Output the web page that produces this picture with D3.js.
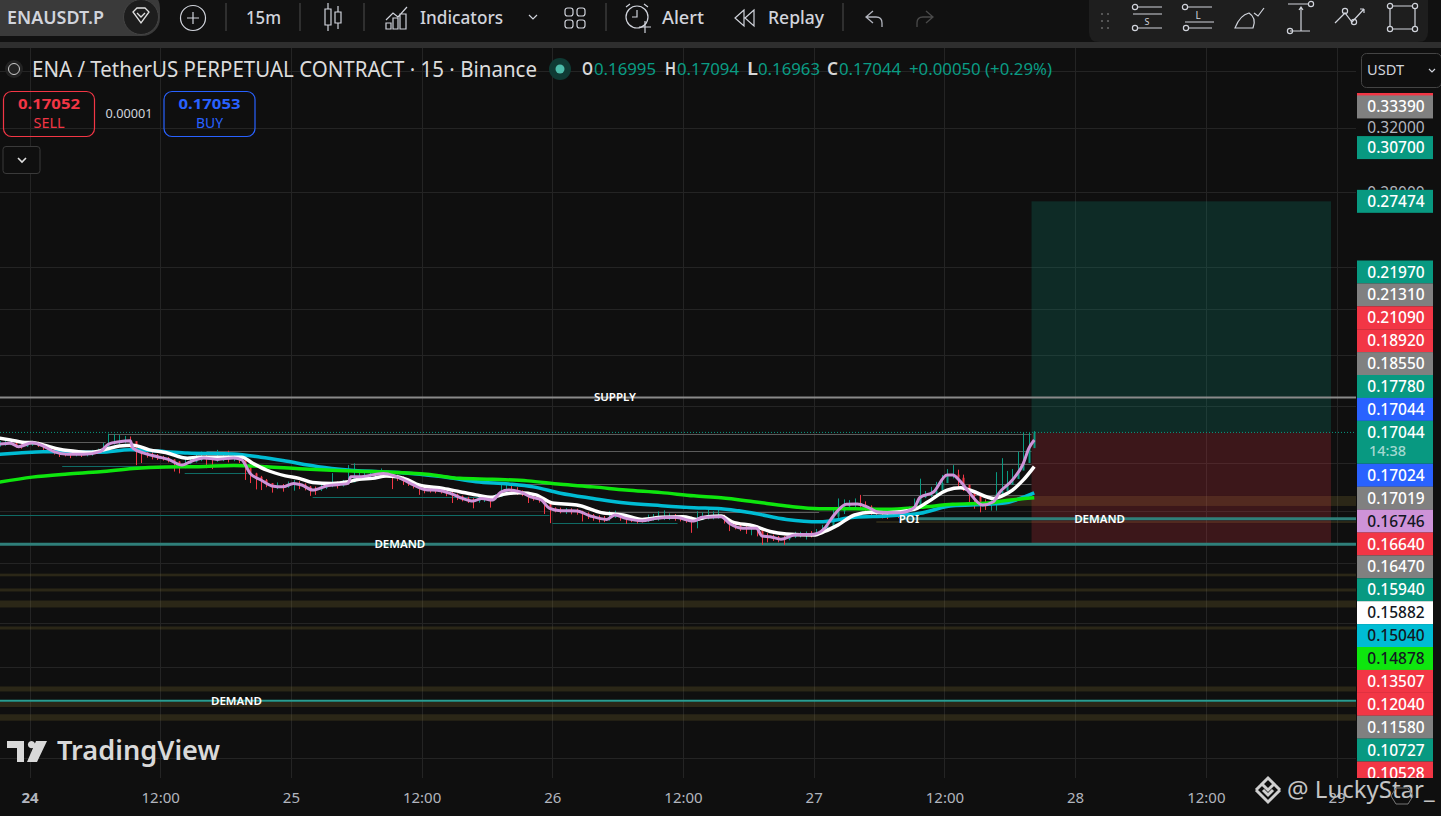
<!DOCTYPE html>
<html>
<head>
<meta charset="utf-8">
<script src="https://cdn.jsdelivr.net/npm/d3@7"></script>
<style>
  html, body { margin: 0; padding: 0; background: #0f0f0f; overflow: hidden; }
  text { font-family: "Noto Sans", "Open Sans", sans-serif; }
</style>
</head>
<body>
<div id="chart"></div>
<script>
// 15m candles, one every second bar. Bar 0 is the 24th 00:00
const candleStart = -11;
const candleStep = 2;
const candleClose = [
  .1664,.1666,.1667,.1660,.1656,.1661,.1668,.1662,.1657,.1648,
  .1639,.1635,.1630,.1627,.1631,.1628,.1631,.1634,.1637,.1650,
  .1664,.1670,.1672,.1676,.1674,.1645,.1636,.1630,.1626,.1620,
  .1616,.1612,.1605,.1596,.1597,.1604,.1610,.1617,.1615,.1612,
  .1613,.1616,.1613,.1617,.1612,.1590,.1566,.1555,.1545,.1535,
  .1526,.1528,.1523,.1530,.1534,.1530,.1524,.1515,.1514,.1520,
  .1526,.1530,.1527,.1533,.1537,.1555,.1555,.1559,.1562,.1564,
  .1566,.1562,.1556,.1552,.1547,.1537,.1529,.1522,.1515,.1513,
  .1512,.1510,.1504,.1499,.1494,.1487,.1484,.1479,.1484,.1487,
  .1484,.1492,.1506,.1512,.1511,.1508,.1503,.1495,.1490,.1484,
  .1470,.1457,.1453,.1450,.1450,.1449,.1448,.1442,.1437,.1431,
  .1428,.1425,.1430,.1437,.1431,.1427,.1425,.1421,.1420,.1424,
  .1427,.1428,.1429,.1431,.1430,.1428,.1424,.1420,.1422,.1430,
  .1431,.1433,.1434,.1425,.1413,.1406,.1400,.1397,.1399,.1397,
  .1376,.1375,.1373,.1368,.1367,.1373,.1379,.1380,.1381,.1380,
  .1386,.1395,.1405,.1432,.1448,.1463,.1469,.1471,.1468,.1462,
  .1453,.1446,.1445,.1442,.1446,.1443,.1448,.1455,.1460,.1490,
  .1496,.1501,.1512,.1535,.1560,.1562,.1552,.1530,.1507,.1495,
  .1473,.1470,.1475,.1500,.1510,.1530,.1548,.1575,.1600,.1650,.1704
];
const candleHigh = [
  .1674,.1675,.1676,.1669,.1665,.1668,.1675,.1672,.1666,.1660,
  .1648,.1643,.1640,.1634,.1640,.1636,.1640,.1644,.1648,.1668,
  .1700,.1699,.1695,.1692,.1690,.1652,.1648,.1642,.1636,.1630,
  .1624,.1620,.1612,.1606,.1621,.1620,.1628,.1638,.1626,.1622,
  .1644,.1628,.1641,.1632,.1628,.1605,.1580,.1568,.1558,.1548,
  .1535,.1537,.1532,.1540,.1545,.1541,.1534,.1526,.1524,.1530,
  .1538,.1567,.1540,.1545,.1593,.1599,.1570,.1570,.1572,.1576,
  .1582,.1574,.1566,.1562,.1556,.1548,.1538,.1532,.1524,.1522,
  .1520,.1518,.1512,.1508,.1502,.1496,.1492,.1488,.1492,.1495,
  .1494,.1500,.1534,.1530,.1530,.1522,.1512,.1505,.1498,.1494,
  .1482,.1466,.1460,.1459,.1458,.1457,.1456,.1450,.1445,.1440,
  .1436,.1434,.1449,.1450,.1440,.1436,.1433,.1428,.1428,.1438,
  .1440,.1448,.1451,.1442,.1440,.1437,.1434,.1432,.1448,.1445,
  .1454,.1448,.1455,.1438,.1425,.1416,.1410,.1408,.1408,.1406,
  .1386,.1384,.1380,.1376,.1376,.1382,.1388,.1388,.1389,.1390,
  .1396,.1408,.1422,.1455,.1487,.1484,.1482,.1487,.1498,.1478,
  .1466,.1458,.1456,.1452,.1456,.1458,.1456,.1462,.1487,.1549,
  .1510,.1523,.1539,.1561,.1580,.1593,.1578,.1562,.1530,.1510,
  .1490,.1484,.1490,.1570,.1616,.1574,.1580,.1638,.1703,.1703,.1709
];
const candleLow = [
  .1655,.1658,.1660,.1652,.1648,.1654,.1658,.1654,.1644,.1640,
  .1628,.1620,.1622,.1616,.1622,.1620,.1622,.1624,.1630,.1636,
  .1658,.1662,.1664,.1666,.1640,.1593,.1600,.1618,.1612,.1610,
  .1608,.1602,.1572,.1566,.1583,.1596,.1602,.1606,.1583,.1580,
  .1604,.1606,.1602,.1606,.1600,.1545,.1535,.1515,.1513,.1522,
  .1505,.1516,.1508,.1520,.1511,.1516,.1512,.1495,.1498,.1510,
  .1516,.1522,.1518,.1524,.1531,.1545,.1548,.1550,.1552,.1555,
  .1558,.1554,.1516,.1542,.1529,.1526,.1518,.1498,.1503,.1505,
  .1503,.1502,.1494,.1473,.1482,.1478,.1473,.1457,.1474,.1476,
  .1459,.1484,.1496,.1504,.1502,.1498,.1494,.1473,.1480,.1474,
  .1440,.1413,.1445,.1442,.1440,.1439,.1438,.1418,.1425,.1420,
  .1415,.1416,.1420,.1428,.1420,.1411,.1416,.1412,.1415,.1416,
  .1420,.1420,.1422,.1422,.1420,.1418,.1414,.1385,.1398,.1422,
  .1424,.1424,.1426,.1412,.1390,.1395,.1390,.1382,.1378,.1375,
  .1351,.1358,.1362,.1358,.1351,.1364,.1370,.1372,.1366,.1372,
  .1378,.1382,.1392,.1402,.1426,.1440,.1456,.1458,.1455,.1448,
  .1436,.1430,.1427,.1425,.1434,.1428,.1432,.1444,.1448,.1458,
  .1488,.1492,.1500,.1520,.1545,.1550,.1518,.1510,.1467,.1456,
  .1445,.1452,.1450,.1450,.1490,.1518,.1530,.1560,.1592,.1640,.1696
];

// moving averages: bar number + value read at that bar
const pinkBars = [-11,-7,-4,1,5,9,14,20,26,29,33,37,38,42,47,51,56,59,64,69,75,78,81,85,89,93,97,100,104,109,117,118,121,
  130,134,137,141,145,151,156,159,163,166,170,173,176,180,184,188,191,195,201,206,212,215,219,225,230,237,244,247,254,
  257,262,267,269,272,276,281,288,292,295,300,304,308,312,320,325,327,332,337,339,342,345,350,354,356,361,365,367,369];
const pinkValues = [.1664,.1667,.1655,.1668,.1657,.1638,.1629,.1629,.1638,.1664,.1672,.1675,.1650,.1633,.1621,.1612,.1593,.1604,.1617,.1612,.1617,.1610,.1566,.1545,.1526,.1523,.1534,.1529,.1513,.1526,.1534,.1555,.1555,
  .1566,.1558,.1547,.1529,.1515,.1511,.1498,.1487,.1479,.1487,.1482,.1506,.1513,.1508,.1492,.1482,.1457,.1450,.1449,.1434,.1424,.1437,.1427,.1420,.1427,.1430,.1419,.1430,.1432,
  .1413,.1398,.1398,.1376,.1374,.1367,.1379,.1381,.1398,.1432,.1469,.1470,.1460,.1445,.1444,.1460,.1490,.1507,.1561,.1561,.1539,.1507,.1467,.1477,.1503,.1545,.1599,.1649,.1678];
const whiteBars = [-11,-7,-1,1,5,11,18,23,28,33,38,44,50,58,62,69,78,82,87,94,99,104,111,117,121,126,131,135,139,143,152,158,164,170,174,180,186,192,201,210,218,225,232,240,245,249,254,258,266,272,278,288,292,297,303,309,315,325,330,337,342,346,354,358,361,365,369];
const whiteValues = [.1684,.1678,.1669,.1669,.1661,.1646,.1638,.1636,.1646,.1657,.1660,.1644,.1635,.1616,.1619,.1619,.1619,.1599,.1577,.1558,.1550,.1537,.1534,.1539,.1547,.1550,.1558,.1555,.1545,.1529,.1518,.1508,.1498,.1491,.1500,.1505,.1498,.1473,.1467,.1444,.1437,.1424,.1430,.1432,.1424,.1432,.1434,.1417,.1405,.1389,.1382,.1379,.1389,.1408,.1437,.1445,.1444,.1454,.1477,.1513,.1520,.1511,.1487,.1498,.1513,.1545,.1588];
const cyanBars = [-11,-4,5,14,26,37,50,58,75,85,93,106,117,140,152,164,176,185,195,207,219,232,244,254,266,278,290,303,315,327,339,352,358,369];
const cyanValues = [.1629,.1633,.1638,.1637,.1636,.1644,.1638,.1633,.1630,.1619,.1608,.1588,.1577,.1566,.1555,.1539,.1532,.1523,.1503,.1487,.1473,.1465,.1459,.1456,.1442,.1424,.1417,.1430,.1434,.1442,.1465,.1469,.1473,.1504];
const limeBars = [-11,1,14,26,38,50,62,75,87,99,111,121,133,146,158,170,183,195,207,219,232,244,254,266,278,290,303,315,327,339,352,358,369];
const limeValues = [.1538,.1554,.1564,.1571,.1582,.1587,.1588,.1592,.1588,.1581,.1576,.1573,.1570,.1563,.1550,.1547,.1542,.1531,.1523,.1513,.1505,.1495,.1489,.1477,.1464,.1456,.1456,.1454,.1460,.1469,.1473,.1480,.1489];

// axis ticks
const xTickBars = [0,48,96,144,192,240,288,336,384,432,480];
const xTickLabels = ["24","12:00","25","12:00","26","12:00","27","12:00","28","12:00","29"];
const yGridPrices = [.36,.32,.28,.24,.22,.20,.18,.16,.145,.13,.115,.105,.087];
const yShownPrices = [.32,.28];

// drawn levels
const supplyPrice = .1832;
const currentPrice = .17044;
const demandPrices = [.1353,.1426,.0979];
const demandStartBars = [-11,320,-11];
const grayRayPrices = [.1700,.1672,.1639,.1596,.1531,.1498,.1447];
const grayRayStart = [29,1,65,118,172,306,212];
const grayRayEnd = [368,28,368,368,368,368,290];
const tealRayPrices = [.1590,.1566,.1492,.1437,.1413];
const tealRayStart = [12,57,104,-11,192];
const tealRayEnd = [58,80,170,191,238];
const bandTop = [.14946,.14192,.1273,.12346,.12043,.11413,.10083,.09765,.0952];
const bandBottom = [.1464,.14134,.1266,.12269,.1187,.11342,.0998,.09664,.09395];
const bandStart = [355,311,-11,-11,-11,-11,-11,-11,-11];
const levelLabels = ["SUPPLY","DEMAND","DEMAND","DEMAND","POI"];
const levelLabelBars = [215,136,393,76,323];
const levelLabelPrices = [.1832,.1353,.1426,.0979,.1426];

// long position tool
const longStartBar = 368;
const longEndBar = 478;
const longTarget = .27474;
const longEntry = .17044;
const longStop = .13507;

// price tags on the right
const freeTagPrices = ["0.33390","0.30700","0.27474"];
const freeTagColors = ["#808080","#089981","#089981"];
const stackTagPrices = ["0.21970","0.21310","0.21090","0.18920","0.18550","0.17780","0.17044","0.17044","0.17024","0.17019","0.16746","0.16640","0.16470","0.15940","0.15882","0.15040","0.14878","0.13507","0.12040","0.11580","0.10727","0.10528"];
const stackTagColors = ["#089981","#808080","#f23645","#f23645","#808080","#089981","#2962ff","#089981","#2962ff","#808080","#ce93d8","#f23645","#808080","#089981","#ffffff","#00bcd4","#0ee60e","#f23645","#f23645","#808080","#089981","#f23645"];
const darkTextTags = ["#ce93d8","#ffffff","#00bcd4","#0ee60e"];

const W = 1441, H = 816, plotRight = 1356, plotTop = 48, plotBottom = 778;

const svg = d3.select("#chart").append("svg")
  .attr("width", W).attr("height", H)
  .style("display", "block");

svg.append("rect").attr("width", W).attr("height", H).attr("fill", "#0f0f0f");

const x = d3.scaleLinear().domain([0, 48]).range([29.5, 160.2]);
const y = d3.scaleLog().domain([.16, .20]).range([463, 355]);

const defs = svg.append("defs");
defs.append("clipPath").attr("id", "plot").append("rect")
  .attr("x", 0).attr("y", plotTop).attr("width", plotRight).attr("height", plotBottom - plotTop);
defs.append("clipPath").attr("id", "tags").append("rect")
  .attr("x", 1356).attr("y", plotTop).attr("width", 85).attr("height", plotBottom - plotTop);

const plot = svg.append("g").attr("clip-path", "url(#plot)");

// grid
plot.append("g").selectAll("line").data(xTickBars).join("line")
  .attr("x1", d => Math.round(x(d)) + .5).attr("x2", d => Math.round(x(d)) + .5)
  .attr("y1", plotTop).attr("y2", plotBottom)
  .attr("stroke", "#242424");
plot.append("g").selectAll("line").data(yGridPrices).join("line")
  .attr("x1", 0).attr("x2", plotRight)
  .attr("y1", d => Math.round(y(d)) + .5).attr("y2", d => Math.round(y(d)) + .5)
  .attr("stroke", "#242424");

// olive zones
plot.append("g").selectAll("rect").data(bandTop).join("rect")
  .attr("x", (d, i) => x(bandStart[i]))
  .attr("y", d => y(d))
  .attr("width", (d, i) => plotRight - x(bandStart[i]))
  .attr("height", (d, i) => y(bandBottom[i]) - y(d))
  .attr("fill", "rgba(120,105,45,.28)");

// long position boxes
plot.append("rect")
  .attr("x", x(longStartBar)).attr("width", x(longEndBar) - x(longStartBar))
  .attr("y", y(longTarget)).attr("height", y(longEntry) - y(longTarget))
  .attr("fill", "rgba(8,153,129,.2)");
plot.append("rect")
  .attr("x", x(longStartBar)).attr("width", x(longEndBar) - x(longStartBar))
  .attr("y", y(longEntry)).attr("height", y(longStop) - y(longEntry))
  .attr("fill", "rgba(242,54,69,.2)");

// horizontal rays from old swing points
plot.append("g").selectAll("line").data(grayRayPrices).join("line")
  .attr("x1", (d, i) => x(grayRayStart[i])).attr("x2", (d, i) => x(grayRayEnd[i]))
  .attr("y1", d => Math.round(y(d)) + .5).attr("y2", d => Math.round(y(d)) + .5)
  .attr("stroke", "#5c5c5c").attr("stroke-width", 1);
plot.append("g").selectAll("line").data(tealRayPrices).join("line")
  .attr("x1", (d, i) => x(tealRayStart[i])).attr("x2", (d, i) => x(tealRayEnd[i]))
  .attr("y1", d => Math.round(y(d)) + .5).attr("y2", d => Math.round(y(d)) + .5)
  .attr("stroke", "#0f6b65").attr("stroke-width", 1);

// supply and demand levels
plot.append("line")
  .attr("x1", 0).attr("x2", plotRight)
  .attr("y1", y(supplyPrice)).attr("y2", y(supplyPrice))
  .attr("stroke", "#8a8a8a").attr("stroke-width", 2);
plot.append("g").selectAll("line").data(demandPrices).join("line")
  .attr("x1", (d, i) => x(demandStartBars[i])).attr("x2", plotRight)
  .attr("y1", d => y(d)).attr("y2", d => y(d))
  .attr("stroke", (d, i) => i === 2 ? "#2a9d90" : "#2f7f7a")
  .attr("stroke-width", (d, i) => i === 2 ? 2 : 3);
plot.append("line")
  .attr("x1", 0).attr("x2", plotRight)
  .attr("y1", y(currentPrice)).attr("y2", y(currentPrice))
  .attr("stroke", "#089981").attr("stroke-dasharray", "1 2");

// candles, snapped to the pixel grid so the wicks stay sharp
const candles = candleClose.map((c, i) => ({
  bar: candleStart + i * candleStep,
  open: i ? candleClose[i - 1] : c,
  close: c,
  high: candleHigh[i],
  low: candleLow[i]
}));
const candleColor = d => d.close >= d.open ? "#089981" : "#f23645";
const candleX = d => Math.round(x(d.bar)) + .5;
plot.append("g").selectAll("line").data(candles).join("line")
  .attr("x1", candleX).attr("x2", candleX)
  .attr("y1", d => y(d.high)).attr("y2", d => y(d.low))
  .attr("stroke", candleColor).attr("stroke-width", 1);
plot.append("g").selectAll("rect").data(candles).join("rect")
  .attr("x", d => candleX(d) - 1).attr("width", 2)
  .attr("y", d => y(Math.max(d.open, d.close)))
  .attr("height", d => Math.max(1, Math.abs(y(d.open) - y(d.close))))
  .attr("fill", candleColor);

// moving averages
const maLine = d3.line().x(d => x(d[0])).y(d => y(d[1])).curve(d3.curveMonotoneX);
function drawMa(bars, values, color, width) {
  plot.append("path")
    .attr("d", maLine(bars.map((b, i) => [b, values[i]])))
    .attr("fill", "none")
    .attr("stroke", color)
    .attr("stroke-width", width)
    .attr("stroke-linejoin", "round");
}
drawMa(cyanBars, cyanValues, "#00bcd4", 3.5);
drawMa(limeBars, limeValues, "#0ee60e", 3.5);
drawMa(whiteBars, whiteValues, "#ffffff", 3.5);
drawMa(pinkBars, pinkValues, "#ce93d8", 3);

// level captions
plot.append("g").selectAll("text").data(levelLabels).join("text")
  .attr("x", (d, i) => x(levelLabelBars[i]))
  .attr("y", (d, i) => y(levelLabelPrices[i]) + 4)
  .attr("text-anchor", "middle")
  .attr("font-size", 11.5)
  .attr("font-weight", 600)
  .attr("fill", "#fff")
  .text(d => d);

// helpers for chrome text
function label(t, px, py, opt = {}) {
  const el = svg.append("text")
    .attr("x", px).attr("y", py)
    .attr("font-size", opt.size || 16)
    .attr("font-weight", opt.weight || 400)
    .attr("fill", opt.fill || "#d1d4dc")
    .attr("text-anchor", opt.anchor || "start")
    .text(t);
  if (opt.width) el.attr("textLength", opt.width).attr("lengthAdjust", "spacingAndGlyphs");
  return el;
}
function icon(d, color = "#d1d4dc", width = 1.2) {
  return svg.append("path").attr("d", d).attr("fill", "none")
    .attr("stroke", color).attr("stroke-width", width);
}

// time axis
const xAxis = d3.axisBottom(x)
  .tickValues(xTickBars)
  .tickSize(0)
  .tickFormat((d, i) => xTickLabels[i]);
const xAxisG = svg.append("g").attr("transform", "translate(0,792)").call(xAxis);
xAxisG.select(".domain").remove();
xAxisG.selectAll("text")
  .attr("font-size", 15).attr("fill", "#b2b5be").attr("y", 0).attr("dy", ".71em")
  .style("font-family", '"Noto Sans", sans-serif')
  .attr("font-weight", (d, i) => i === 0 ? 700 : 400);

// price axis
const yAxis = d3.axisRight(y)
  .tickValues(yShownPrices)
  .tickSize(0)
  .tickFormat(d3.format(".5f"));
const yAxisG = svg.append("g").attr("transform", "translate(1396,0)").call(yAxis);
yAxisG.select(".domain").remove();
yAxisG.selectAll("text")
  .attr("x", 0).attr("text-anchor", "middle")
  .attr("font-size", 15.5).attr("fill", "#b2b5be")
  .style("font-family", '"Noto Sans", sans-serif');

// price tags
const tagLayer = svg.append("g").attr("clip-path", "url(#tags)");
function drawTag(txt, color, cy, h) {
  tagLayer.append("rect").attr("x", 1357).attr("width", 76)
    .attr("y", cy - 11.5).attr("height", h).attr("fill", color);
  tagLayer.append("text").attr("x", 1396).attr("y", cy + 5.5)
    .attr("text-anchor", "middle").attr("font-size", 15.5).attr("font-weight", 500)
    .attr("fill", darkTextTags.includes(color) ? "#131722" : "#fff")
    .text(txt);
}
tagLayer.append("rect").attr("x", 1357).attr("width", 76).attr("y", 93).attr("height", 3).attr("fill", "#f23645");
freeTagPrices.forEach((p, i) => drawTag(p, freeTagColors[i], y(+p), 23));
let tagY = 272;
stackTagPrices.forEach((p, i) => {
  const tall = i === 7;
  drawTag(p, stackTagColors[i], tagY, tall ? 43 : 23);
  if (tall) {
    tagLayer.append("text").attr("x", 1369).attr("y", tagY + 24)
      .attr("font-size", 14.5).attr("font-weight", 500).attr("fill", "rgba(255,255,255,.65)").text("14:38");
  }
  tagY += tall ? 43 : 22.9;
});

// top toolbar
svg.append("rect").attr("width", W).attr("height", 42).attr("fill", "#111111");
svg.append("rect").attr("y", 42).attr("width", W).attr("height", 6).attr("fill", "#2e2e2e");
svg.append("rect").attr("x", -20).attr("y", -10).attr("width", 180).attr("height", 46).attr("rx", 18).attr("fill", "#3a3a3a");
svg.append("circle").attr("cx", 141).attr("cy", 17).attr("r", 17.5).attr("fill", "#1d1d1d").attr("stroke", "#444");
icon("M133 12l4-4h8l4 4-8 11zM137 13l4 4 4-4", "#e0e0e0", 1.3);
label("ENAUSDT.P", 7, 24, { size: 17, weight: 600, width: 97 });
svg.append("circle").attr("cx", 193).attr("cy", 18).attr("r", 12.5).attr("fill", "none").attr("stroke", "#d1d4dc").attr("stroke-width", 1.2);
icon("M187 18h12M193 12v12");
label("15m", 246, 24, { size: 17.5, weight: 500, width: 35 });
[226, 300, 364, 606, 843].forEach(sx => svg.append("line")
  .attr("x1", sx).attr("x2", sx).attr("y1", 3).attr("y2", 31).attr("stroke", "#3a3a3a").attr("stroke-width", 1.5));
// candles icon
icon("M325 9h6v16h-6zM328 3v6M328 25v6M335 12h6v11h-6zM338 6v6M338 23v6");
// indicators icon
icon("M386 20l7-7 5 4 9-10M386 29v-6h5v6zM393 29V18h5v11zM400 29V14h6v15z");
label("Indicators", 420, 24, { size: 17.5, weight: 500, width: 83 });
icon("M529 15l4 4 4-4");
// layout icon
[565, 577].forEach(gx => [8, 20].forEach(gy => svg.append("rect")
  .attr("x", gx).attr("y", gy).attr("width", 8).attr("height", 8).attr("rx", 2.5)
  .attr("fill", "none").attr("stroke", "#d1d4dc").attr("stroke-width", 1.2)));
// alert icon
svg.append("circle").attr("cx", 637).attr("cy", 17).attr("r", 11).attr("fill", "none").attr("stroke", "#d1d4dc").attr("stroke-width", 1.2);
icon("M637 10v7h-5M626 7l4-3M648 7l-4-3M639 27h12M645 21v12");
label("Alert", 662, 24, { size: 17.5, weight: 500, width: 42 });
// replay icon
icon("M744 10l-9 8 9 8zM754 10l-9 8 9 8z");
label("Replay", 768, 24, { size: 17.5, weight: 500, width: 56 });
icon("M873 11l-7 6 7 6M866 17h10q6 0 6 6v4", "#b2b5be", 1.3);
icon("M926 11l7 6-7 6M933 17h-10q-6 0-6 6v4", "#4a4a4a", 1.3);

// floating drawing toolbar
svg.append("path").attr("d", "M1089 0H1428V32q0 10-10 10H1099q-10 0-10-10z").attr("fill", "#1e1e1e");
[[1101, 13], [1107, 13], [1101, 20], [1107, 20], [1101, 27], [1107, 27]]
  .forEach(p => svg.append("rect").attr("x", p[0]).attr("y", p[1]).attr("width", 2).attr("height", 2).attr("fill", "#555"));
function knob(cx, cy) {
  svg.append("circle").attr("cx", cx).attr("cy", cy).attr("r", 2.6)
    .attr("fill", "none").attr("stroke", "#d1d4dc").attr("stroke-width", 1.2);
}
icon("M1138 7h24M1133 14h29M1138 28h24");
knob(1135, 7); knob(1135, 28);
label("S", 1147, 25, { size: 9, anchor: "middle" });
icon("M1188 7h24M1185 22h29M1188 28h24");
knob(1185, 7); knob(1186, 28);
label("L", 1198, 19, { size: 10, anchor: "middle" });
icon("M1235 28h18q4-10-4-15-9 2-14 15zM1254 13l4 3 6-8", "#d1d4dc", 1.2);
icon("M1288 4h20M1290 31h20M1301 7v24M1299 10l2-3 2 3");
knob(1311, 4); knob(1290, 31);
icon("M1335 23l10-10 7 9 12-13M1364 9h-4M1364 9v4");
knob(1345, 11); knob(1354, 22);
icon("M1392 6h21M1392 29h21M1390 8v19M1415 8v19");
knob(1390, 6); knob(1415, 6); knob(1390, 29); knob(1415, 29);

// legend line
svg.append("circle").attr("cx", 14).attr("cy", 69).attr("r", 9).attr("fill", "#222");
svg.append("circle").attr("cx", 14).attr("cy", 69).attr("r", 5.5).attr("fill", "none").attr("stroke", "#ccc").attr("stroke-width", 1);
label("ENA / TetherUS PERPETUAL CONTRACT · 15 · Binance", 32, 77, { size: 22, width: 505, fill: "#dcdcdc" });
svg.append("circle").attr("cx", 560).attr("cy", 69).attr("r", 11).attr("fill", "#0f3a34");
svg.append("circle").attr("cx", 560).attr("cy", 69).attr("r", 4.5).attr("fill", "#4cbcaa");
const ohlcKeys = ["O", "H", "L", "C"];
const ohlcValues = ["0.16995", "0.17094", "0.16963", "0.17044"];
const ohlcKeyX = [582, 665, 747, 827];
const ohlcValueX = [594, 677, 758, 839];
ohlcKeys.forEach((k, i) => {
  label(k, ohlcKeyX[i], 75, { size: 17, weight: 600, fill: "#d8d8d8", width: 11 });
  label(ohlcValues[i], ohlcValueX[i], 75, { size: 17, fill: "#0a9c84", width: 62 });
});
label("+0.00050 (+0.29%)", 909, 75, { size: 17, fill: "#0a9c84", width: 143 });

// sell and buy buttons
function orderBox(bx, color, price, side) {
  svg.append("rect").attr("x", bx).attr("y", 91.5).attr("width", 91).attr("height", 45).attr("rx", 8)
    .attr("fill", "none").attr("stroke", color).attr("stroke-width", 1.2);
  label(price, bx + 45.5, 109, { size: 14.5, weight: 700, fill: color, anchor: "middle", width: 62 });
  label(side, bx + 45.5, 128, { size: 15, fill: color, anchor: "middle", width: side === "SELL" ? 31 : 27 });
}
orderBox(3.5, "#f23645", "0.17052", "SELL");
orderBox(164, "#2962ff", "0.17053", "BUY");
label("0.00001", 129, 118, { size: 12.5, anchor: "middle", fill: "#d1d4dc", width: 47 });
svg.append("rect").attr("x", 3).attr("y", 146.5).attr("width", 37).attr("height", 27).attr("rx", 3)
  .attr("fill", "#0f0f0f").attr("stroke", "#3a3a3a");
icon("M18 158l4 4 4-4", "#e0e0e0", 1.6);

// currency selector
svg.append("rect").attr("x", 1361.5).attr("y", 53.5).attr("width", 80).attr("height", 34).attr("rx", 5)
  .attr("fill", "#0f0f0f").attr("stroke", "#444");
label("USDT", 1367, 75, { size: 14.5, fill: "#d1d4dc", width: 37 });
icon("M1429 69l3 3 3-3");

// TradingView mark
svg.append("path").attr("d", "M7 741h17v21h-7v-14H7zM31.5 741a3.6 3.6 0 1 1 -.01 0zM36 741h11l-10 21H27z")
  .attr("fill", "#d9d9d9");
label("TradingView", 57, 760, { size: 27, weight: 600, fill: "#d9d9d9", width: 163 });

// screenshot watermark
const wm = svg.append("g").attr("fill", "none").attr("stroke", "#cfcfcf").attr("stroke-width", 3);
wm.append("path").attr("d", "M1268 778l6 6-6 6-6-6zM1256 790l5-5M1280 790l-5-5M1256 790l12 12 12-12M1263 790l5 5 5-5");
label("@ LuckyStar_", 1287, 798, { size: 24, fill: "#c4c4c4" });
svg.append("path").attr("d", "M1396 788h12l5 8-5 8h-12l-5-8z").attr("fill", "none").attr("stroke", "#777");
</script>
</body>
</html>
